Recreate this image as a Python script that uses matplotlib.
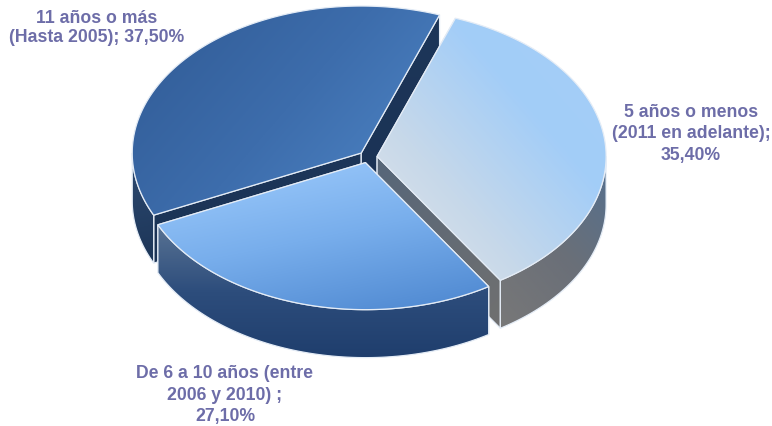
import numpy as np
import matplotlib
matplotlib.use('Agg')
import matplotlib.pyplot as plt
from matplotlib.colors import LinearSegmentedColormap
from matplotlib.path import Path
from matplotlib.patches import PathPatch

# Datos del grafico
valores = [35.4, 27.1, 37.5]
nombres = ['5 años o menos\n(2011 en adelante);\n', 'De 6 a 10 años (entre\n2006 y 2010) ;\n', '11 años o más\n(Hasta 2005); ']

# Geometria de la torta (pixeles)
cx, cy = 368, 157
a, b = 229, 147
prof = 48
explode = 0.04
inicio = 70
pos_textos = [(691, 134), (225, 395), (97, 28)]
interlineado = [1.32, 1.32, 1.22]

# estilos: (colores, direccion del gradiente en x, y)
tapa = [(['#e4e5e9', '#c6d8ea', '#a2cdf8', '#a6cff6'], (0.75, -0.65)),
        (['#a0cdfd', '#78aeec', '#4c86cf'], (0.2, 1)),
        (['#305a94', '#3d6dac', '#5088c9'], (0.75, 0.65))]
pared = [(['#787878', '#6a6f78', '#54708f'], (1, -0.9)),
         (['#587293', '#2d4d7c', '#1f3e6d'], (0, 1)),
         (['#2d4a72', '#1c3557'], (0.2, 1))]
cara = [(['#566679', '#707070'], (1, 1)),
        (['#2a4a78', '#2a4a78'], (0, 1)),
        (['#1d3659', '#1b3355'], (0, 1))]

fig = plt.figure(figsize=(7.72, 4.26), dpi=100, facecolor='white')
ax = fig.add_axes([0, 0, 1, 1])
ax.set_xlim(0, 772)
ax.set_ylim(426, 0)
ax.axis('off')


def punto(x0, y0, ang):
    return x0 + a * np.cos(np.radians(ang)), y0 - b * np.sin(np.radians(ang))


def rellenar(vertices, colores, direccion, zorder):
    vertices = np.array(vertices)
    x0, y0 = vertices.min(axis=0)
    x1, y1 = vertices.max(axis=0)
    xs, ys = np.meshgrid(np.linspace(x0, x1, 300), np.linspace(y0, y1, 300))
    t = xs * direccion[0] + ys * direccion[1]
    t = (t - t.min()) / max(t.max() - t.min(), 1e-6)
    cmap = LinearSegmentedColormap.from_list('g', colores)
    im = ax.imshow(t, extent=(x0, x1, y1, y0), cmap=cmap, zorder=zorder, aspect='auto', interpolation='bilinear')
    parche = PathPatch(Path(np.vstack([vertices, vertices[0]]), closed=True), facecolor='none',
                       edgecolor='#e4ecf6', linewidth=0.9, zorder=zorder + 0.1, joinstyle='miter')
    ax.add_patch(parche)
    im.set_clip_path(parche)


# angulos de cada porcion, en sentido horario
orden_dibujo = [2, 0, 1]
fin = inicio
rangos = []
for v in valores:
    rangos.append((fin - v / 100 * 360, fin))
    fin = fin - v / 100 * 360

for z, i in enumerate(orden_dibujo):
    ang1, ang2 = rangos[i]
    medio = np.radians((ang1 + ang2) / 2)
    x0 = cx + explode * a * np.cos(medio)
    y0 = cy - explode * b * np.sin(medio)
    base = z * 10 + 1

    # caras radiales
    for k, ang in enumerate((ang2, ang1)):
        px, py = punto(x0, y0, ang)
        rellenar([(x0, y0), (px, py), (px, py + prof), (x0, y0 + prof)], cara[i][0], cara[i][1], base + k)

    # pared exterior, solo la mitad de adelante
    arcos = [(ang1, ang2), (ang1 + 360, ang2 + 360)]
    for d1, d2 in arcos:
        d1 = max(d1, 180)
        d2 = min(d2, 360)
        if d2 > d1:
            angs = np.linspace(d1, d2, 80)
            arriba = [punto(x0, y0, t) for t in angs]
            abajo = [(p[0], p[1] + prof) for p in arriba[::-1]]
            rellenar(arriba + abajo, pared[i][0], pared[i][1], base + 2)

    # tapa
    angs = np.linspace(ang1, ang2, 200)
    rellenar([(x0, y0)] + [punto(x0, y0, t) for t in angs], tapa[i][0], tapa[i][1], base + 4)

for nombre, v, (tx, ty), esp in zip(nombres, valores, pos_textos, interlineado):
    etiqueta = nombre + f'{v:.2f}%'.replace('.', ',')
    ax.text(tx, ty, etiqueta, ha='center', va='center', fontsize=12.7, fontweight='bold', color='#6d6da8',
            family='Liberation Sans', linespacing=esp, zorder=100)

ax.set_xlim(0, 772)
ax.set_ylim(426, 0)
fig.savefig('out.png', dpi=100)
